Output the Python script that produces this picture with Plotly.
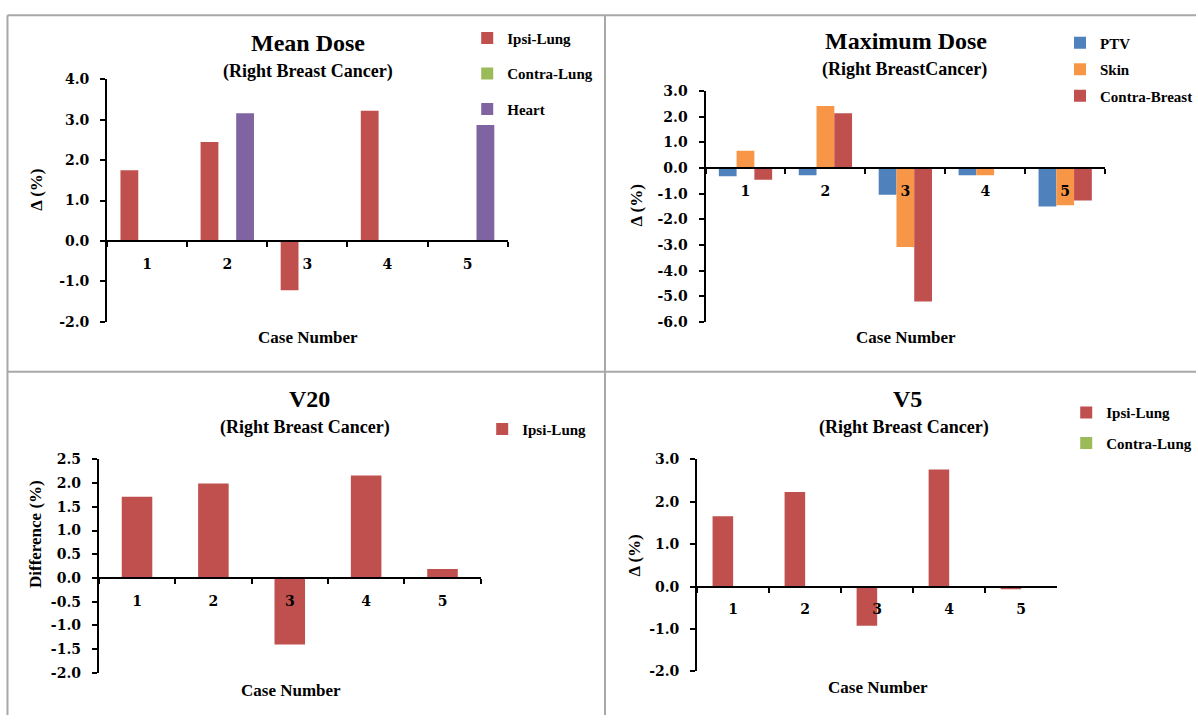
import plotly.graph_objects as go

W, H = 1198, 723

# ---------------- data ----------------
cases = ["1", "2", "3", "4", "5"]

mean_ipsi = [1.75, 2.45, -1.22, 3.22, 0.0]
mean_contra = [0.0, 0.0, 0.0, 0.0, 0.0]
mean_heart = [0.0, 3.16, 0.0, 0.0, 2.87]

max_ptv = [-0.32, -0.28, -1.04, -0.28, -1.50]
max_skin = [0.67, 2.42, -3.08, -0.28, -1.45]
max_contra = [-0.46, 2.14, -5.20, 0.0, -1.27]

v20_ipsi = [1.71, 1.99, -1.40, 2.16, 0.19]

v5_ipsi = [1.66, 2.23, -0.92, 2.76, -0.06]
v5_contra = [0.0, 0.0, 0.0, 0.0, 0.0]

titles = ["Mean Dose", "Maximum Dose", "V20", "V5"]
subtitles = ["(Right Breast Cancer)", "(Right BreastCancer)", "(Right Breast Cancer)", "(Right Breast Cancer)"]
ytitles = ["Δ (%)", "Δ (%)", "Difference (%)", "Δ (%)"]
xtitle = "Case Number"

RED = "#C0504D"
GREEN = "#9BBB59"
PURPLE = "#8064A2"
BLUE = "#4F81BD"
ORANGE = "#F79646"

SERIF = "Liberation Serif"
TICKF = "DejaVu Serif"


def bx(px):
    return px / W


def by(py):
    return 1 - py / H


panels = [
    dict(series=[("Ipsi-Lung", mean_ipsi, RED), ("Contra-Lung", mean_contra, GREEN), ("Heart", mean_heart, PURPLE)],
         xd=(107.3, 508.5), yd=(72.8, 321.0), yr=(-2, 4), dtick=1,
         title=(309, 36), sub=(309, 65), xt=(309, 337), yt=(37, 186),
         leg=(468, 14), gap=13),
    dict(series=[("PTV", max_ptv, BLUE), ("Skin", max_skin, ORANGE), ("Contra-Breast", max_contra, RED)],
         xd=(706.7, 1107.0), yd=(85.0, 321.0), yr=(-6, 3), dtick=1,
         title=(908, 34), sub=(906, 63), xt=(908, 337), yt=(638, 202),
         leg=(1062, 19), gap=4),
    dict(series=[("Ipsi-Lung", v20_ipsi, RED)],
         xd=(99.0, 481.5), yd=(461.5, 680.0), yr=(-2, 2.5), dtick=0.5,
         title=(310, 400), sub=(306, 429), xt=(291, 698), yt=(35, 538),
         leg=(483, 414), gap=10),
    dict(series=[("Ipsi-Lung", v5_ipsi, RED), ("Contra-Lung", v5_contra, GREEN)],
         xd=(698.3, 1059.0), yd=(461.5, 678.5), yr=(-2, 3), dtick=1,
         title=(909, 400), sub=(906, 429), xt=(879, 695), yt=(636, 560),
         leg=(1068, 397), gap=8),
]

fig = go.Figure()
layout = dict(
    width=W, height=H, margin=dict(l=0, r=0, t=0, b=0),
    paper_bgcolor="white", plot_bgcolor="white",
    barmode="overlay", showlegend=True,
    annotations=[], shapes=[],
)

for i, p in enumerate(panels, start=1):
    n = len(p["series"])
    w = 1.0 / (n + 1.5)
    suffix = "" if i == 1 else str(i)
    legname = "legend" if i == 1 else f"legend{i}"
    for j, (name, vals, col) in enumerate(p["series"]):
        fig.add_trace(go.Bar(
            x=cases, y=vals, name=name,
            marker=dict(color=col, line=dict(width=0)),
            width=w, offset=-n * w / 2 + j * w,
            xaxis=f"x{suffix}", yaxis=f"y{suffix}",
            legend=legname, legendgroup=f"p{i}s{j}",
        ))
    y0p, y1p = by(p["yd"][1]), by(p["yd"][0])
    ymin, ymax = p["yr"]
    zero_pos = y0p + (0 - ymin) / (ymax - ymin) * (y1p - y0p)
    nt = int(round((ymax - ymin) / p["dtick"]))
    tvals = [ymin + k * p["dtick"] for k in range(nt + 1)]
    ttext = [f"{v:.1f}" for v in tvals]
    layout[f"xaxis{suffix}"] = dict(
        domain=[bx(p["xd"][0]), bx(p["xd"][1])],
        type="category", categoryorder="array", categoryarray=cases,
        range=[-0.5, 4.5], anchor="free", position=zero_pos,
        showline=True, linecolor="black", linewidth=2,
        ticks="outside", tickson="boundaries", ticklen=5, tickwidth=1.5, tickcolor="black",
        showgrid=False, zeroline=False, fixedrange=True,
        tickfont=dict(family=TICKF, size=14, color="black", weight="bold"),
        ticklabelstandoff=10,
    )
    layout[f"yaxis{suffix}"] = dict(
        domain=[y0p, y1p], range=[ymin, ymax],
        tickmode="array", tickvals=tvals, ticktext=ttext,
        anchor=f"x{suffix}",
        showline=True, linecolor="black", linewidth=2,
        ticks="outside", ticklen=5, tickwidth=1.5, tickcolor="black",
        showgrid=False, zeroline=False, fixedrange=True,
        tickfont=dict(family=TICKF, size=14, color="black", weight="bold"),
        ticklabelstandoff=8,
    )
    layout[legname] = dict(
        x=bx(p["leg"][0]), y=by(p["leg"][1]), xanchor="left", yanchor="top",
        bgcolor="rgba(0,0,0,0)", borderwidth=0, itemwidth=30,
        tracegroupgap=p["gap"], orientation="v",
        font=dict(family=SERIF, size=15, color="black", weight="bold"),
    )
    ann = layout["annotations"]
    ann.append(dict(text=titles[i - 1], x=bx(p["title"][0]), y=by(p["title"][1]),
                    xref="paper", yref="paper", showarrow=False, xanchor="center", yanchor="middle",
                    font=dict(family=SERIF, size=24, color="black", weight="bold")))
    ann.append(dict(text=subtitles[i - 1], x=bx(p["sub"][0]), y=by(p["sub"][1]),
                    xref="paper", yref="paper", showarrow=False, xanchor="center", yanchor="middle",
                    font=dict(family=SERIF, size=18, color="black", weight="bold")))
    ann.append(dict(text=xtitle, x=bx(p["xt"][0]), y=by(p["xt"][1]),
                    xref="paper", yref="paper", showarrow=False, xanchor="center", yanchor="middle",
                    font=dict(family=SERIF, size=17, color="black", weight="bold")))
    ann.append(dict(text=ytitles[i - 1], x=bx(p["yt"][0]), y=by(p["yt"][1]), textangle=-90,
                    xref="paper", yref="paper", showarrow=False, xanchor="center", yanchor="middle",
                    font=dict(family=SERIF, size=17, color="black", weight="bold")))

# panel frame lines
FRAME = "#A8A8A8"
for (x0, y0, x1, y1) in [(7.5, 7.5, 1198, 7.5), (7.5, 7.5, 7.5, 723), (606, 7.5, 606, 723), (7.5, 372, 1198, 372)]:
    layout["shapes"].append(dict(type="line", xref="paper", yref="paper",
                                 x0=bx(x0), y0=by(y0), x1=bx(x1), y1=by(y1),
                                 line=dict(color=FRAME, width=2)))

fig.update_layout(**layout)
fig.write_html("out.html", config={"displayModeBar": False},
               post_script="document.body.style.margin='0';document.body.style.overflow='hidden';")
